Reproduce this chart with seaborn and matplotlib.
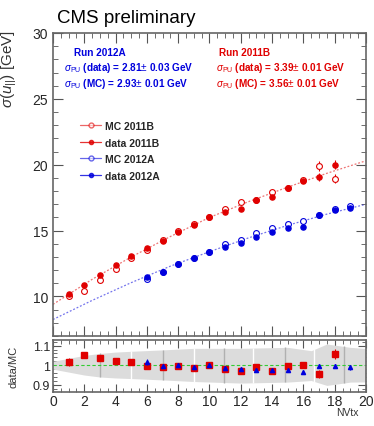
import numpy as np
import matplotlib
matplotlib.use('Agg')
import matplotlib.pyplot as plt
from matplotlib.lines import Line2D
from matplotlib.ticker import MultipleLocator
import seaborn as sns

sns.set_style('ticks')
plt.rcParams['font.family'] = ['Liberation Sans', 'DejaVu Sans']
plt.rcParams['mathtext.fontset'] = 'custom'
plt.rcParams['mathtext.rm'] = 'Liberation Sans'
plt.rcParams['mathtext.it'] = 'Liberation Sans:italic'
plt.rcParams['mathtext.bf'] = 'Liberation Sans:bold'

RED = '#e00000'
BLUE = '#0000dd'

# main panel data (sigma(u_par) vs NVtx)
nvtx_b = [1, 2, 3, 4, 5, 6, 7, 8, 9, 10, 11, 12, 13, 14, 15, 16, 17, 18]
data_2011b = [10.15, 10.9, 11.65, 12.4, 13.05, 13.65, 14.2, 14.9, 15.4, 16.0,
              16.4, 16.65, 17.3, 17.55, 18.2, 18.8, 19.1, 20.0]
data_2011b_err = [0.1, 0.05, 0.05, 0.05, 0.05, 0.05, 0.05, 0.05, 0.05, 0.05,
                  0.05, 0.05, 0.05, 0.08, 0.1, 0.12, 0.3, 0.35]
mc_2011b = [10.0, 10.4, 11.25, 12.1, 12.9, 13.55, 14.3, 14.95, 15.5, 16.0,
            16.65, 17.15, 17.35, 17.95, 18.2, 18.85, 19.9, 18.95]
mc_2011b_err = [0.1, 0.05, 0.05, 0.05, 0.05, 0.05, 0.05, 0.05, 0.05, 0.05,
                0.05, 0.05, 0.05, 0.08, 0.1, 0.12, 0.35, 0.35]

nvtx_a = [6, 7, 8, 9, 10, 11, 12, 13, 14, 15, 16, 17, 18, 19]
data_2012a = [11.5, 11.85, 12.45, 12.95, 13.4, 13.75, 14.05, 14.5, 14.9, 15.2,
              15.3, 16.2, 16.6, 16.75]
mc_2012a = [11.3, 11.85, 12.45, 12.95, 13.4, 14.0, 14.25, 14.8, 15.2, 15.5,
            15.75, 16.2, 16.65, 16.9]

# fitted curves
fit_x = [0, 2.5, 5, 7.5, 10, 12.5, 15, 17.5, 20]
fit_2011b = [9.4, 11.3, 13.0, 14.55, 16.0, 17.2, 18.3, 19.35, 20.3]
fit_2012a = [8.25, 9.7, 11.05, 12.3, 13.4, 14.45, 15.4, 16.25, 17.0]

# ratio panel
ratio_2011b = [1.018, 1.052, 1.035, 1.022, 1.015, 0.996, 0.991, 0.996, 0.988,
               1.002, 0.983, 0.969, 0.993, 0.970, 0.995, 1.0, 0.955, 1.057]
ratio_2011b_err = [0.02, 0.008, 0.006, 0.005, 0.005, 0.005, 0.005, 0.005, 0.005,
                   0.005, 0.005, 0.006, 0.007, 0.007, 0.008, 0.01, 0.02, 0.025]
ratio_2012a = [1.015, 0.995, 1.002, 0.99, 1.003, 0.985, 0.98, 0.978, 0.976,
               0.976, 0.966, 0.995, 0.995, 0.99]
ratio_2012a_err = [0.015, 0.005, 0.005, 0.005, 0.005, 0.005, 0.005, 0.005, 0.005,
                   0.006, 0.006, 0.008, 0.01, 0.012]

band_x = [0, 1, 2, 3, 4, 5, 7, 9, 12, 15, 16.5, 17.5, 19, 20]
band_hi = [1.02, 1.035, 1.05, 1.06, 1.067, 1.071, 1.078, 1.086, 1.086, 1.091,
           1.074, 1.108, 1.091, 1.085]
band_lo = [0.98, 0.965, 0.95, 0.94, 0.935, 0.932, 0.925, 0.917, 0.909, 0.914,
           0.922, 0.897, 0.914, 0.915]
bin_edges = [3, 5, 7, 9, 10.9, 12.8, 14.8, 16.7, 18.6]

fig = plt.figure(figsize=(3.74, 4.27), dpi=100)
ax = fig.add_axes([0.1417, 0.2108, 0.8369, 0.7096])
rax = fig.add_axes([0.1417, 0.0803, 0.8369, 0.1218])

# fits
sns.lineplot(x=fit_x, y=fit_2011b, ax=ax, color=RED, alpha=0.55, lw=0.9,
             linestyle=(0, (1.5, 1.5)))
sns.lineplot(x=fit_x, y=fit_2012a, ax=ax, color=BLUE, alpha=0.55, lw=0.9,
             linestyle=(0, (1.5, 1.5)))

ax.errorbar(nvtx_b, mc_2011b, yerr=mc_2011b_err, fmt='o', mfc='white', mec=RED,
            ecolor=RED, ms=4.2, mew=0.8, elinewidth=0.8, capsize=0)
ax.errorbar(nvtx_b, data_2011b, yerr=data_2011b_err, fmt='o', color=RED,
            ms=3.7, elinewidth=0.8, capsize=0)
ax.errorbar(nvtx_a, mc_2012a, fmt='o', mfc='white', mec=BLUE, ms=4.2, mew=0.8)
ax.errorbar(nvtx_a, data_2012a, fmt='o', color=BLUE, ms=3.7)

ax.set_xlim(0, 20)
ax.set_ylim(7, 30)
ax.xaxis.set_major_locator(MultipleLocator(2))
ax.xaxis.set_minor_locator(MultipleLocator(0.5))
ax.yaxis.set_major_locator(MultipleLocator(5))
ax.yaxis.set_minor_locator(MultipleLocator(1))
ax.tick_params(which='both', direction='in', top=True, right=True, labelbottom=False,
               labelsize=10, color='#555555')
ax.tick_params(which='major', length=7)
ax.tick_params(which='minor', length=3.5)
for s in ax.spines.values():
    s.set_color('#666666')
    s.set_linewidth(1.2)
ax.set_ylabel(r'$\sigma(u_{||})$ [GeV]', fontsize=11, color='#333333')
ax.yaxis.set_label_coords(-0.108, 0.885)

handles = [
    Line2D([], [], color=RED, alpha=0.6, lw=0.9, marker='o', mfc='white', mec=RED, ms=3.5),
    Line2D([], [], color=RED, alpha=0.8, lw=0.9, marker='o', ms=3),
    Line2D([], [], color=BLUE, alpha=0.6, lw=0.9, marker='o', mfc='white', mec=BLUE, ms=3.5),
    Line2D([], [], color=BLUE, alpha=0.8, lw=0.9, marker='o', ms=3),
]
labels = ['MC 2011B', 'data 2011B', 'MC 2012A', 'data 2012A']
leg = ax.legend(handles, labels, loc='upper left', bbox_to_anchor=(0.055, 0.74),
                frameon=False, prop={'weight': 'bold', 'size': 7.5}, handlelength=2.1,
                handletextpad=0.35, labelspacing=0.62)

kw = dict(transform=ax.transAxes, fontsize=7.2, fontweight='bold', va='center')
ax.text(0.066, 0.937, 'Run 2012A', color=BLUE, **kw)
ax.text(0.035, 0.888, r'$\sigma_{\rm PU}$ (data) = 2.81$\pm$ 0.03 GeV', color=BLUE, **kw)
ax.text(0.035, 0.835, r'$\sigma_{\rm PU}$ (MC) = 2.93$\pm$ 0.01 GeV', color=BLUE, **kw)
ax.text(0.53, 0.937, 'Run 2011B', color=RED, **kw)
ax.text(0.52, 0.888, r'$\sigma_{\rm PU}$ (data) = 3.39$\pm$ 0.01 GeV', color=RED, **kw)
ax.text(0.52, 0.835, r'$\sigma_{\rm PU}$ (MC) = 3.56$\pm$ 0.01 GeV', color=RED, **kw)

fig.text(0.152, 0.945, 'CMS preliminary', fontsize=13.5, color='black')

# ratio panel
rax.fill_between(band_x, band_lo, band_hi, color='#dcdcdc', lw=0)
for i, e in enumerate(bin_edges):
    lo = np.interp(e, band_x, band_lo)
    hi = np.interp(e, band_x, band_hi)
    rax.vlines(e, lo, hi, color='white' if i % 2 else '#b0b0b0', lw=1)
rax.axhline(1.0, color='#33cc33', lw=0.8, ls=(0, (3, 2)))
rax.errorbar(nvtx_b, ratio_2011b, yerr=ratio_2011b_err, fmt='s', color=RED,
             ms=4, elinewidth=0.8, capsize=0, zorder=3)
rax.errorbar(nvtx_a, ratio_2012a, yerr=ratio_2012a_err, fmt='^', color=BLUE,
             ms=3, elinewidth=0.8, capsize=0, zorder=4)
rax.set_xlim(0, 20)
rax.set_ylim(0.865, 1.13)
rax.xaxis.set_major_locator(MultipleLocator(2))
rax.xaxis.set_minor_locator(MultipleLocator(0.5))
rax.yaxis.set_major_locator(MultipleLocator(0.1))
rax.yaxis.set_minor_locator(MultipleLocator(0.02))
rax.set_yticks([0.9, 1.0, 1.1])
rax.set_yticklabels(['0.9', '1', '1.1'])
rax.tick_params(which='both', direction='in', top=True, right=True, color='#555555')
rax.tick_params(axis='x', labelsize=10, pad=2)
rax.tick_params(axis='y', labelsize=9, pad=2)
rax.tick_params(which='major', length=6)
rax.tick_params(which='minor', length=3)
for s in rax.spines.values():
    s.set_color('#666666')
    s.set_linewidth(1.2)
rax.set_ylabel('data/MC', fontsize=8, color='#333333')
rax.yaxis.set_label_coords(-0.11, 0.5)
rax.set_xlabel('NVtx', fontsize=7.5, color='#333333')
rax.xaxis.set_label_coords(0.94, -0.3)

fig.savefig('out.png', dpi=100)
